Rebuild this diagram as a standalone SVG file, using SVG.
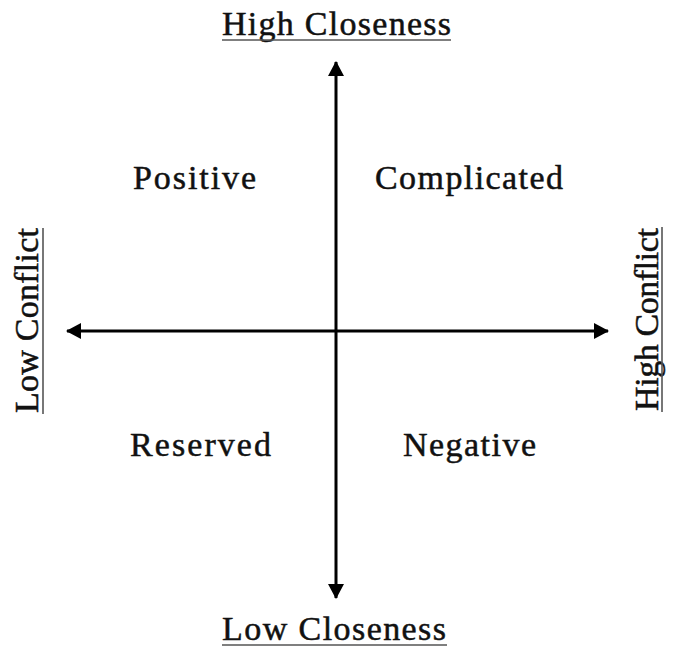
<svg xmlns="http://www.w3.org/2000/svg" width="673" height="651" viewBox="0 0 673 651">
<style>
text{font-family:"Liberation Serif","DejaVu Serif",serif;font-size:34px;fill:#111;stroke:#111;stroke-width:0.5}
.ul{stroke:#555;stroke-width:1.6}
.ax{stroke:#000;stroke-width:3;fill:none}
</style>
<defs>
<marker id="ah" markerUnits="userSpaceOnUse" markerWidth="16" markerHeight="16" refX="14" refY="8" orient="auto">
<path d="M0,0 L15,8 L0,16 Z" fill="#000"/>
</marker>
</defs>
<rect width="673" height="651" fill="#fff"/>
<g id="connectors">
<line class="ax" x1="336" y1="331" x2="336" y2="62" marker-end="url(#ah)"/>
<line class="ax" x1="336" y1="331" x2="336" y2="598" marker-end="url(#ah)"/>
<line class="ax" x1="336" y1="331" x2="67" y2="331" marker-end="url(#ah)"/>
<line class="ax" x1="336" y1="331" x2="608" y2="331" marker-end="url(#ah)"/>
</g>
<g id="high-closeness">
<text x="222" y="35" textLength="229">High Closeness</text>
<line class="ul" x1="222" y1="40" x2="451" y2="40"/>
</g>
<g id="low-closeness">
<text x="222" y="640" textLength="224">Low Closeness</text>
<line class="ul" x1="222" y1="645" x2="447" y2="645"/>
</g>
<g id="low-conflict">
<text transform="translate(38,413) rotate(-90)" x="0" y="0" textLength="185">Low Conflict</text>
<line class="ul" x1="43" y1="414" x2="43" y2="228"/>
</g>
<g id="high-conflict">
<text transform="translate(658,411) rotate(-90)" x="0" y="0" textLength="183">High Conflict</text>
<line class="ul" x1="662" y1="412" x2="662" y2="227"/>
</g>
<g id="positive"><text x="133" y="189" textLength="123">Positive</text></g>
<g id="complicated"><text x="375" y="189" textLength="188">Complicated</text></g>
<g id="reserved"><text x="130" y="456" textLength="141">Reserved</text></g>
<g id="negative"><text x="403" y="456" textLength="133">Negative</text></g>
</svg>
